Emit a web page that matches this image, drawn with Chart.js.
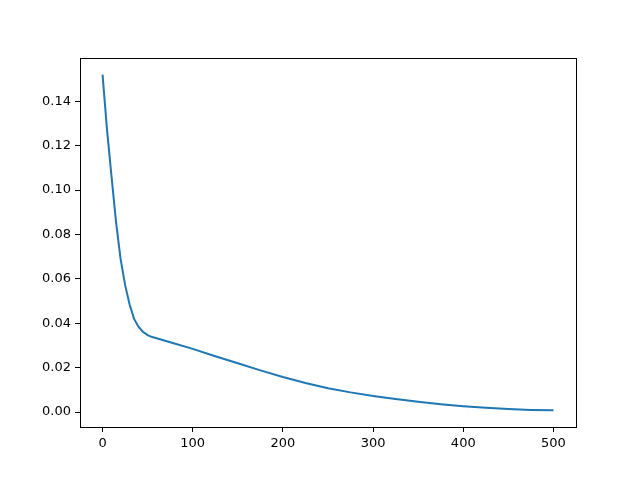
<!DOCTYPE html>
<html>
<head>
<meta charset="utf-8">
<script src="https://cdn.jsdelivr.net/npm/chart.js@4/dist/chart.umd.min.js"></script>
<style>
  body { margin: 0; background: #fff; }
</style>
</head>
<body>
<canvas id="chart" width="640" height="480"></canvas>
<script>
// data
var steps = [0, 5, 10, 15, 20, 25, 30, 35, 40, 45, 50, 55, 60, 75, 100, 125, 150, 175, 200,
             225, 250, 275, 300, 325, 350, 375, 400, 425, 450, 475, 500];
var loss = [0.152, 0.127, 0.106, 0.0855, 0.069, 0.0573, 0.0485, 0.042, 0.0384, 0.0361, 0.0347, 0.0338, 0.0333, 0.0315, 0.0285,
            0.0252, 0.0220, 0.0188, 0.0158, 0.0131, 0.0108, 0.0089, 0.0073, 0.0059, 0.0047,
            0.0036, 0.0027, 0.0020, 0.0014, 0.0010, 0.0008];
var xTicks = [0, 100, 200, 300, 400, 500];
var yTicks = [0, 0.02, 0.04, 0.06, 0.08, 0.10, 0.12, 0.14];

var points = steps.map(function(s, i) { return {x: s, y: loss[i]}; });

// box around the plot area, like matplotlib spines
var framePlugin = {
  id: 'frame',
  afterDraw: function(chart) {
    var a = chart.chartArea;
    var ctx = chart.ctx;
    ctx.save();
    ctx.strokeStyle = '#000';
    ctx.lineWidth = 1;
    ctx.strokeRect(Math.round(a.left) + 0.5, Math.round(a.top) + 0.5,
                   Math.round(a.right - a.left), Math.round(a.bottom - a.top));
    ctx.restore();
  }
};

var tickFont = { family: 'DejaVu Sans', size: 13 };

new Chart(document.getElementById('chart'), {
  type: 'line',
  data: {
    datasets: [{
      data: points,
      borderColor: '#1f77b4',
      borderWidth: 2,
      pointRadius: 0,
      tension: 0,
      fill: false
    }]
  },
  options: {
    responsive: false,
    animation: false,
    layout: { padding: { left: 0, top: 58, right: 64, bottom: 0 } },
    plugins: { legend: { display: false }, tooltip: { enabled: false } },
    scales: {
      x: {
        type: 'linear',
        min: -25,
        max: 525,
        afterBuildTicks: function(scale) {
          scale.ticks = xTicks.map(function(v) { return {value: v}; });
        },
        afterFit: function(scale) { scale.height = 53; },
        border: { display: false },
        grid: { drawOnChartArea: false, drawTicks: true, tickLength: 5, color: '#000' },
        ticks: { color: '#000', font: tickFont, padding: 4, maxRotation: 0,
                 callback: function(v) { return v; } }
      },
      y: {
        type: 'linear',
        min: -0.0067,
        max: 0.1595,
        afterBuildTicks: function(scale) {
          scale.ticks = yTicks.map(function(v) { return {value: v}; });
        },
        afterFit: function(scale) { scale.width = 80; },
        border: { display: false },
        grid: { drawOnChartArea: false, drawTicks: true, tickLength: 5, color: '#000' },
        ticks: { color: '#000', font: tickFont, padding: 4,
                 callback: function(v) { return v.toFixed(2); } }
      }
    }
  },
  plugins: [framePlugin]
});
</script>
</body>
</html>
